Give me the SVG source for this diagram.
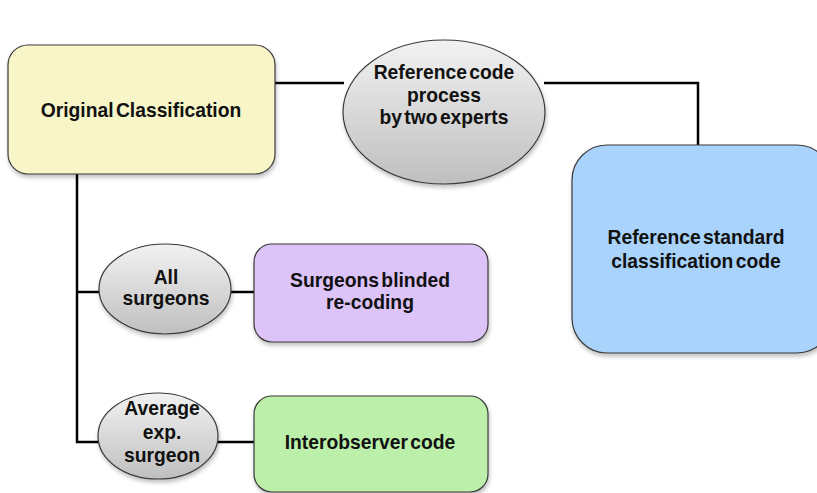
<svg xmlns="http://www.w3.org/2000/svg" width="817" height="493" viewBox="0 0 817 493">
<defs>
<linearGradient id="gray" x1="0" y1="0" x2="0" y2="1">
<stop offset="0" stop-color="#f2f2f2"/>
<stop offset="1" stop-color="#bfbfbf"/>
</linearGradient>
<filter id="sh" x="-10%" y="-10%" width="130%" height="130%">
<feGaussianBlur in="SourceAlpha" stdDeviation="2"/>
<feOffset dx="1" dy="3"/>
<feComponentTransfer><feFuncA type="linear" slope="0.25"/></feComponentTransfer>
<feMerge><feMergeNode/><feMergeNode in="SourceGraphic"/></feMerge>
</filter>
</defs>
<style>
.shape{stroke:#3a3a3a;stroke-width:1.2;filter:url(#sh)}
.ell{fill:url(#gray)}
.conn{fill:none;stroke:#000;stroke-width:2.5}
text{font-family:"Liberation Sans",Arial,sans-serif;font-weight:bold;font-size:19.3px;fill:#111;text-anchor:middle;word-spacing:-3px}
</style>
<rect width="817" height="493" fill="#fff"/>
<g id="connectors">
<line class="conn" x1="275" y1="83" x2="344" y2="83"/>
<polyline class="conn" points="544,83 698,83 698,145"/>
<polyline class="conn" points="77,174 77,442 99,442"/>
<line class="conn" x1="77" y1="292" x2="100" y2="292"/>
<line class="conn" x1="231" y1="292" x2="254" y2="292"/>
<line class="conn" x1="217" y1="442" x2="254" y2="442"/>
</g>
<g id="original">
<rect class="shape" x="8" y="45" width="267" height="129" rx="20" fill="#f8f5c8"/>
<text x="141" y="117">Original Classification</text>
</g>
<g id="refprocess">
<ellipse class="shape ell" cx="444" cy="112" rx="101" ry="72"/>
<text x="444" y="79">Reference code</text>
<text x="444" y="102">process</text>
<text x="444" y="124">by two experts</text>
</g>
<g id="refstandard">
<rect class="shape" x="572" y="145" width="260" height="208" rx="35" fill="#a9d3fb"/>
<text x="696" y="244">Reference standard</text>
<text x="696" y="268">classification code</text>
</g>
<g id="allsurgeons">
<ellipse class="shape ell" cx="165" cy="289" rx="66" ry="45"/>
<text x="166" y="284">All</text>
<text x="166" y="305">surgeons</text>
</g>
<g id="blinded">
<rect class="shape" x="254" y="244" width="234" height="98" rx="18" fill="#dcc3f8"/>
<text x="370" y="287">Surgeons blinded</text>
<text x="370" y="309">re-coding</text>
</g>
<g id="average">
<ellipse class="shape ell" cx="158" cy="436" rx="60" ry="43"/>
<text x="162" y="415">Average</text>
<text x="162" y="439">exp.</text>
<text x="162" y="462">surgeon</text>
</g>
<g id="interobserver">
<rect class="shape" x="254" y="396" width="234" height="96" rx="18" fill="#bbefaa"/>
<text x="370" y="449">Interobserver code</text>
</g>
</svg>
